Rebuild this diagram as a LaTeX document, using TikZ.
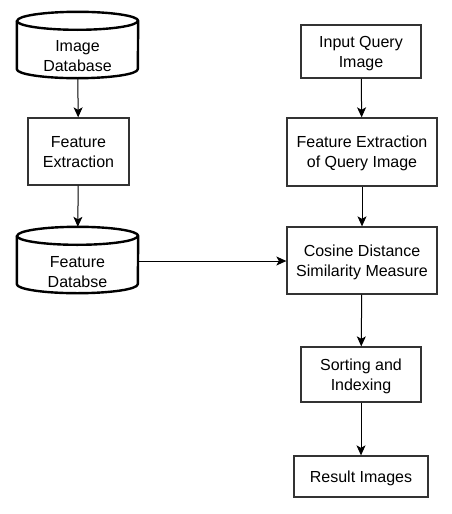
\documentclass[tikz,border=0pt]{standalone}
\usepackage{fontspec}
\setmainfont{Liberation Sans}
\usetikzlibrary{arrows.meta}
\usetikzlibrary{positioning}

\tikzset{
  procbox/.style={draw=black!80, line width=1.3pt, fill=white, align=center,
    inner sep=0pt, text depth=0pt, font=\fontsize{16}{20}\selectfont},
  dbnode/.style={rectangle, inner sep=0pt, minimum width=121pt, minimum height=66pt,
    font=\fontsize{16}{20}\selectfont},
  dbline/.style={draw=black, line width=2.4pt, line join=round},
  flow/.style={-{Stealth[length=10pt, width=9pt, inset=2.5pt]}, line width=1pt, black}
}

% outline of a database drum round a named node
\newcommand{\dbdrum}[1]{%
  \draw [dbline] ([yshift=-9pt]#1.north west) -- ([yshift=9pt]#1.south west)
    arc [start angle=180, end angle=360, x radius=60.5pt, y radius=9pt]
    -- ([yshift=-9pt]#1.north east)
    arc [start angle=0, end angle=180, x radius=60.5pt, y radius=9pt] -- cycle;
  \draw [dbline] ([yshift=-9pt]#1.north west)
    arc [start angle=180, end angle=360, x radius=60.5pt, y radius=9pt];
}

\begin{document}
\begin{tikzpicture}
    [x=1pt, y=-1pt]
    \useasboundingbox (0, 0) rectangle (451, 514);
    % left column
    \node (imgdb) [dbnode] at (77.5, 45) {
      \raisebox{-16.5pt}[0pt][0pt]{\begin{tabular}{c}
        Image \\
        Database
      \end{tabular}}
    };
    \dbdrum{imgdb}
    \node (featext) [procbox, minimum width=101pt, minimum height=67pt] at (78.5, 151.5) {Feature\\Extraction};
    \node (featdb) [dbnode] at (77.5, 260) {
      \raisebox{-18pt}[0pt][0pt]{\begin{tabular}{c}
        Feature \\
        Databse
      \end{tabular}}
    };
    \dbdrum{featdb}
    % right column
    \node (query) [procbox, minimum width=120pt, minimum height=53pt] at (361, 51.5) {Input Query\\Image};
    \node (featq) [procbox, minimum width=150pt, minimum height=68pt] at (362, 152) {Feature Extraction\\of Query Image};
    \node (cosine) [procbox, minimum width=150pt, minimum height=67pt] at (362, 260.5) {Cosine Distance\\Similarity Measure};
    \node (sort) [procbox, minimum width=120pt, minimum height=55pt] at (361, 374.5) {Sorting and\\Indexing};
    \node (result) [procbox, minimum width=134pt, minimum height=41pt] at (361, 476.5) {Result Images};

    \draw [flow] (imgdb) -- (featext);
    \draw [flow] (featext) -- (featdb);
    \draw [flow] ([yshift=-1pt]featdb.east) -- ([yshift=-1pt]featdb.east -| cosine.west);
    \draw [flow] (query) -- (featq);
    \draw [flow] (featq) -- (cosine);
    \draw [flow] (cosine) -- (sort);
    \draw [flow] (sort) -- (result);
\end{tikzpicture}
\end{document}
